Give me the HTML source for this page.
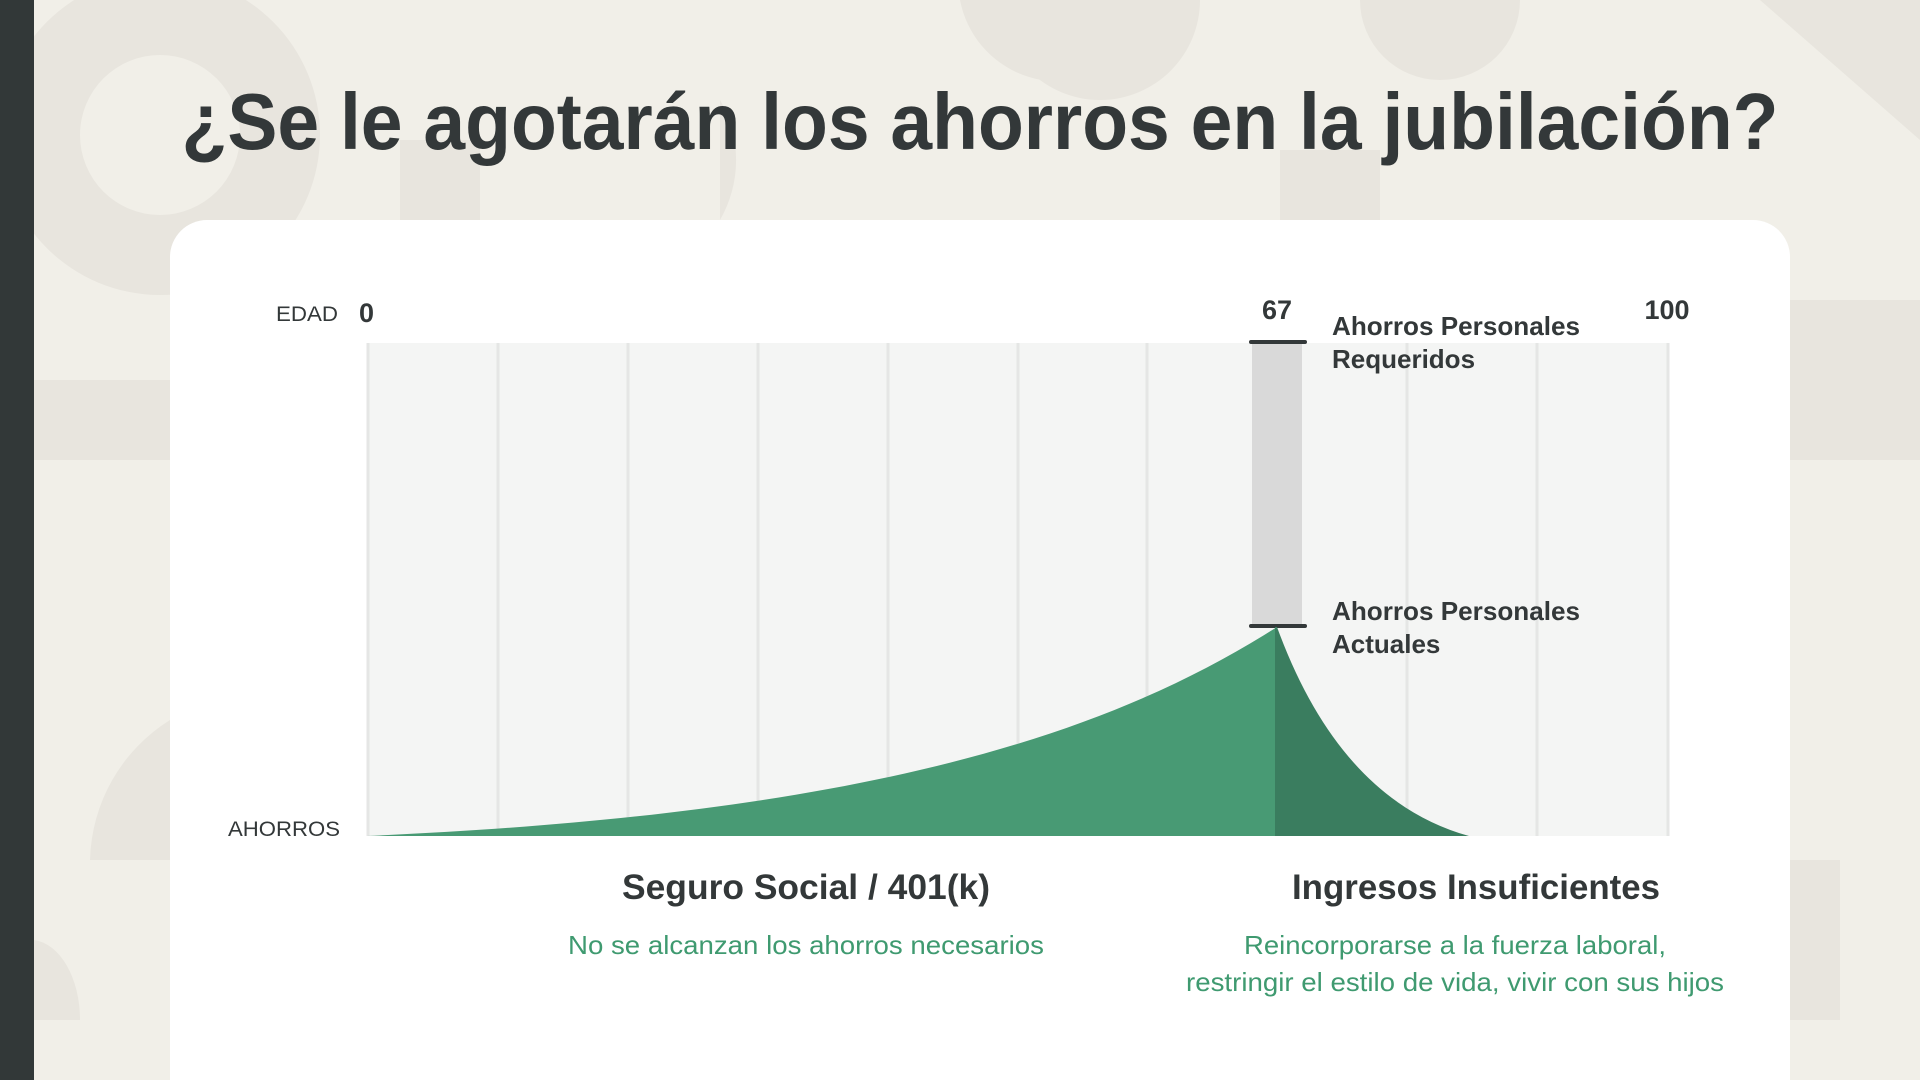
<!DOCTYPE html>
<html><head><meta charset="utf-8"><style>
html,body{margin:0;padding:0;width:1920px;height:1080px;overflow:hidden;background:#f1efe8}
svg{display:block}
text{font-family:"Liberation Sans",sans-serif}
</style></head><body>
<svg width="1920" height="1080" viewBox="0 0 1920 1080" xmlns="http://www.w3.org/2000/svg">
<rect width="1920" height="1080" fill="#f1efe8"/>
<g fill="#e8e5de">
<circle cx="160" cy="135" r="160"/>
<circle cx="160" cy="135" r="80" fill="#f1efe8"/>
<rect x="34" y="380" width="140" height="80"/>
<rect x="1790" y="300" width="130" height="160"/>
<path d="M1000,0 L1200,0 A100,100 0 0 1 1000,0 Z"/>
<path d="M960,0 L1120,0 L1120,60 A100,100 0 0 1 960,0Z"/>
<circle cx="1440" cy="0" r="80"/>
<path d="M1760,0 L1920,0 L1920,140 Z"/>
<path d="M1280,150 L1380,150 L1380,220 L1280,220Z"/>
<path d="M720,100 A120,120 0 0 1 720,220Z"/>
<rect x="400" y="140" width="80" height="80"/>
<path d="M90,860 A170,170 0 0 1 170,720 L170,860 Z"/>
<path d="M34,940 A50,80 0 0 1 80,1020 L34,1020Z"/>
<rect x="1790" y="860" width="50" height="160"/>
</g>
<rect x="0" y="0" width="34" height="1080" fill="#323838"/>
<text x="980" y="149" font-size="80" font-weight="bold" fill="#333839" text-anchor="middle" textLength="1597" lengthAdjust="spacingAndGlyphs">¿Se le agotarán los ahorros en la jubilación?</text>
<rect x="170" y="220" width="1620" height="900" rx="37" fill="#ffffff"/>
<rect x="367" y="343" width="1302" height="493" fill="#f4f5f4"/>
<g stroke="#e5e6e5" stroke-width="3">
<line x1="368" y1="343" x2="368" y2="836"/><line x1="498" y1="343" x2="498" y2="836"/><line x1="628" y1="343" x2="628" y2="836"/><line x1="758" y1="343" x2="758" y2="836"/><line x1="888" y1="343" x2="888" y2="836"/><line x1="1018" y1="343" x2="1018" y2="836"/><line x1="1147" y1="343" x2="1147" y2="836"/><line x1="1407" y1="343" x2="1407" y2="836"/><line x1="1537" y1="343" x2="1537" y2="836"/><line x1="1668" y1="343" x2="1668" y2="836"/>
</g>
<rect x="1252" y="343" width="50" height="284" fill="#d9d9d9"/>
<line x1="1251" y1="342" x2="1305" y2="342" stroke="#333839" stroke-width="4" stroke-linecap="round"/>
<line x1="1251" y1="626" x2="1305" y2="626" stroke="#333839" stroke-width="4" stroke-linecap="round"/>
<path d="M367,836 C850,815 1100,740 1277,627 L1277,836 Z" fill="#489a74"/>
<path d="M1275,627 L1277,627 Q1340,800 1469,836 L1275,836 Z" fill="#3a7d5f"/>
<text x="276" y="321" font-size="21" fill="#333839" textLength="62" lengthAdjust="spacingAndGlyphs">EDAD</text>
<text x="359" y="322" font-size="27" font-weight="bold" fill="#333839">0</text>
<text x="1277" y="319" font-size="27" font-weight="bold" fill="#333839" text-anchor="middle">67</text>
<text x="1667" y="319" font-size="27" font-weight="bold" fill="#333839" text-anchor="middle">100</text>
<g font-size="26" font-weight="bold" fill="#333839">
<text x="1332" y="335" textLength="248" lengthAdjust="spacingAndGlyphs">Ahorros Personales</text>
<text x="1332" y="368">Requeridos</text>
<text x="1332" y="620" textLength="248" lengthAdjust="spacingAndGlyphs">Ahorros Personales</text>
<text x="1332" y="653">Actuales</text>
</g>
<text x="228" y="836" font-size="21" fill="#333839" textLength="112" lengthAdjust="spacingAndGlyphs">AHORROS</text>
<text x="806" y="899" font-size="35" font-weight="bold" fill="#333839" text-anchor="middle" textLength="368" lengthAdjust="spacingAndGlyphs">Seguro Social / 401(k)</text>
<text x="1476" y="899" font-size="35" font-weight="bold" fill="#333839" text-anchor="middle" textLength="368" lengthAdjust="spacingAndGlyphs">Ingresos Insuficientes</text>
<g font-size="26" fill="#3f9a70" text-anchor="middle">
<text x="806" y="954" textLength="476" lengthAdjust="spacingAndGlyphs">No se alcanzan los ahorros necesarios</text>
<text x="1455" y="954" textLength="422" lengthAdjust="spacingAndGlyphs">Reincorporarse a la fuerza laboral,</text>
<text x="1455" y="991" textLength="538" lengthAdjust="spacingAndGlyphs">restringir el estilo de vida, vivir con sus hijos</text>
</g>
</svg>
</body></html>
